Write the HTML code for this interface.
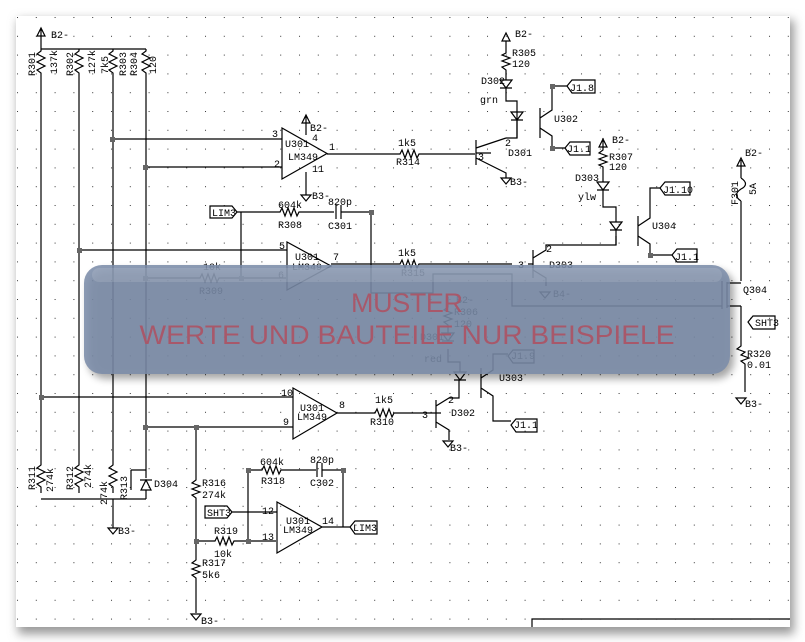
<!DOCTYPE html>
<html><head><meta charset="utf-8"><style>
html,body{margin:0;padding:0;background:#fff;width:805px;height:642px;overflow:hidden}
svg{display:block}
text{font-family:"Liberation Mono",monospace;font-size:10px;fill:#000}
</style></head><body>
<svg width="805" height="642" viewBox="0 0 805 642" xmlns="http://www.w3.org/2000/svg">
<defs>
<pattern id="dots" x="16" y="16" width="18.8" height="18.8" patternUnits="userSpaceOnUse">
<rect x="1" y="1" width="1" height="1" fill="#333"/></pattern>
<filter id="sh" x="-5%" y="-5%" width="110%" height="110%"><feGaussianBlur stdDeviation="5"/></filter>
<filter id="sh2" x="-5%" y="-20%" width="110%" height="140%"><feGaussianBlur stdDeviation="4"/></filter>
</defs>
<rect x="18" y="20" width="776" height="614" fill="#999" filter="url(#sh)"/>
<rect x="16" y="16" width="774" height="611" fill="#fff"/>
<rect x="16" y="16" width="774" height="611" fill="url(#dots)"/>
<g stroke="#000" stroke-width="1.2" fill="none">
<!-- top bus -->
<path d="M41 28v21M37 36l4-8l4 8zM41 49h105"/>
<path d="M41 49v2l-4 3l8 4l-8 4l8 4l-8 4l4 3v392l-4 3l8 4l-8 4l8 4l-8 4l4 3v6"/>
<path d="M79 49v2l-4 3l8 4l-8 4l8 4l-8 4l4 3v392l-4 3l8 4l-8 4l8 4l-8 4l4 3v6"/>
<path d="M113 49v2l-4 3l8 4l-8 4l8 4l-8 4l4 3v392l-4 3l8 4l-8 4l8 4l-8 4l4 3v6"/>
<path d="M146 49v2l-4 3l8 4l-8 4l8 4l-8 4l4 3v405M146 490v9"/>
<!-- opamp1 -->
<path d="M282 128v51l45-25.5z"/>
<path d="M113 139h169M146 167h136M306 115v20M302 123l4-8l4 8zM306 172v23M301 195h10l-5 6z"/>
<path d="M327 154h73l2-4l3 8l3-8l3 8l3-8l3 8l2-4h56"/>
<!-- D301 transistor -->
<path d="M476 140v25M476 153h15M476 148l30-10M476 158l30 15v5M501 178h10l-5 6z"/>
<path d="M506 138h11v-37h-11v-13M500 80h12l-6 8zM500 88h12M506 80v-10l-4-3l8-3l-8-3l8-3l-8-3l4-2v-12M502 41l4-8l4 8z"/>
<path d="M511 112h12l-6 8zM511 120h12M517 120v18"/>
<path d="M540 108v30M540 118l12-8v-24h15M540 128l12 8v12h13"/>
<path d="M567 86l5-6h23v13h-23zM565 148l5-6h20v13h-20z"/>
<!-- LIM3 / opamp2 -->
<path d="M210 206h22l5 6l-5 6h-22z"/>
<path d="M237 212h43l2-4l3 8l3-8l3 8l3-8l3 8l2-4h35M336 205v14M341 205v14M341 212h30v81M241 212v66"/>
<path d="M287 242v48l44-24z"/>
<path d="M79 250h208M146 278h54l2-4l3 8l3-8l3 8l3-8l3 8l2-4h67"/>
<path d="M331 264h69l2-4l3 8l3-8l3 8l3-8l3 8l2-4h93M371 293h62v-19h79v32h210"/>
<path d="M533 250v28M533 264h-5M533 258l13-8v-5h70v-9M533 270l13 8v8M540 292h10l-5 6z"/>
<!-- D303 / U304 -->
<path d="M603 138v12l-4 3l8 3l-8 3l8 3l-8 3l4 2v15M599 147l4-8l4 8zM597 182h12l-6 8zM597 190h12M603 190v17h13v15M610 222h12l-6 8zM610 230h12M616 230v15"/>
<path d="M638 216v30M638 226l12-8v-30h10M638 236l12 8v11h22"/>
<path d="M660 188l5-6h25v13h-25zM672 255l5-6h20v13h-20z"/>
<!-- fuse & mosfet -->
<path d="M737 166l4-8l4 8zM741 160v18M741 178c6 4 6 8 0 11c-6 4-6 8 0 12M741 201v80M722 281v28M727 282v26M727 283h14M727 306h14M741 306v40l-4 3l8 3l-4 3l8 3-8 3l4 3v28M736 398h10l-5 6z"/>
<path d="M748 322l5-6h22v13h-22z"/>
<!-- opamp3 -->
<path d="M293 388v51l44-26z"/>
<path d="M41 397h252M146 427h147M196 427v53l-4 3l8 3l-8 3l8 3l-8 3l4 3v43M196 541v19l-4 3l8 3l-8 3l8 3l-8 3l4 3v35M191 614h10l-5 6z"/>
<path d="M337 413h38l2-4l3 8l3-8l3 8l3-8l3 8l2-4h47"/>
<path d="M436 400v28M436 406l13-8h10v-18M436 422l13 8v10M443 441h10l-5 6z"/>
<path d="M454 372h12l-6 8zM454 380h12M460 372v-10h-12v-13M442 333h12l-6 8zM442 341h12M448 333v-8l-4-3l8-3l-8-3l8-3l-8-3l4-3v-10"/>
<path d="M481 368v30M481 378l12-8v-16h15M481 388l12 8v25h18"/>
<path d="M508 356l5-6h21v13h-21zM511 425l5-6h21v13h-21z"/>
<!-- bottom left -->
<path d="M41 499h105M113 499v29M108 528h10l-5 6z"/>
<path d="M141 490h10l-5-10zM140 480h12M131 470v20M131 470h15"/>
<!-- opamp4 -->
<path d="M277 502v51l45-26z"/>
<path d="M205 506h22l5 6l-5 6h-22zM232 512h45M196 541h19l2-4l3 8l3-8l3 8l3-8l3 8l2-4h42M248 541v-71h14l2-4l3 8l3-8l3 8l3-8l3 8l2-4h35M317 463v14M322 463v14M322 470h21v57"/>
<path d="M322 527h28M350 527l5-6h22v13h-22z"/>
<path d="M532 627v-8h258"/>
</g>
<g fill="#666">
<rect x="110" y="137" width="5" height="5"/><rect x="143" y="165" width="5" height="5"/><rect x="369" y="210" width="5" height="5"/>
<rect x="77" y="248" width="5" height="5"/><rect x="143" y="276" width="5" height="5"/><rect x="239" y="276" width="5" height="5"/>
<rect x="39" y="395" width="5" height="5"/><rect x="143" y="425" width="5" height="5"/><rect x="194" y="425" width="5" height="5"/>
<rect x="194" y="539" width="5" height="5"/><rect x="246" y="539" width="5" height="5"/><rect x="246" y="468" width="5" height="5"/><rect x="341" y="468" width="5" height="5"/>
<rect x="550" y="84" width="5" height="5"/><rect x="550" y="146" width="5" height="5"/><rect x="648" y="253" width="5" height="5"/>
</g>
<g>
<text x="51" y="38">B2-</text>
<text transform="translate(35,76) rotate(-90)">R301</text><text transform="translate(57,74) rotate(-90)">137k</text>
<text transform="translate(73,76) rotate(-90)">R302</text><text transform="translate(95,74) rotate(-90)">127k</text>
<text transform="translate(108,74) rotate(-90)">7k5</text><text transform="translate(126,76) rotate(-90)">R303</text>
<text transform="translate(137,76) rotate(-90)">R304</text><text transform="translate(156,74) rotate(-90)">120</text>
<text x="272" y="137">3</text><text x="274" y="167">2</text><text x="285" y="147">U301</text><text x="288" y="160">LM349</text>
<text x="310" y="131">B2-</text><text x="312" y="141">4</text><text x="312" y="172">11</text><text x="312" y="199">B3-</text><text x="329" y="150">1</text>
<text x="212" y="216">LIM3</text>
<text x="278" y="208">604k</text><text x="278" y="228">R308</text><text x="328" y="205">820p</text><text x="328" y="229">C301</text>
<text x="279" y="249">5</text><text x="278" y="278">6</text><text x="295" y="260">U301</text><text x="292" y="270">LM349</text><text x="333" y="260">7</text>
<text x="203" y="270">10k</text><text x="199" y="294">R309</text>
<text x="398" y="146">1k5</text><text x="396" y="165">R314</text>
<text x="515" y="37">B2-</text><text x="512" y="56">R305</text><text x="512" y="67">120</text><text x="481" y="84">D302</text><text x="480" y="103">grn</text>
<text x="478" y="160">3</text><text x="505" y="146">2</text><text x="508" y="156">D301</text><text x="510" y="185">B3-</text>
<text x="554" y="122">U302</text><text x="570" y="91">J1.8</text><text x="567" y="152">J1.1</text>
<text x="612" y="143">B2-</text><text x="609" y="160">R307</text><text x="609" y="170">120</text><text x="575" y="181">D303</text><text x="578" y="200">ylw</text>
<text x="652" y="229">U304</text><text x="663" y="193">J1.10</text><text x="675" y="260">J1.1</text>
<text x="745" y="156">B2-</text><text transform="translate(738,205) rotate(-90)">F301</text><text transform="translate(756,195) rotate(-90)">5A</text>
<text x="398" y="256">1k5</text><text x="401" y="276">R315</text><text x="518" y="268">3</text><text x="546" y="252">2</text><text x="549" y="268">D303</text><text x="553" y="297">B4-</text>
<text x="743" y="293">Q304</text><text x="755" y="326">SHT3</text><text x="747" y="357">R320</text><text x="747" y="368">0.01</text><text x="745" y="407">B3-</text>
<text x="456" y="303">B2-</text><text x="454" y="315">R306</text><text x="454" y="327">120</text><text x="420" y="340">D301</text><text x="424" y="362">red</text>
<text x="511" y="359">J1.9</text><text x="499" y="381">U303</text><text x="514" y="428">J1.1</text>
<text x="281" y="396">10</text><text x="283" y="425">9</text><text x="300" y="411">U301</text><text x="297" y="420">LM349</text><text x="339" y="408">8</text>
<text x="375" y="403">1k5</text><text x="370" y="425">R310</text><text x="422" y="418">3</text><text x="448" y="403">2</text><text x="451" y="416">D302</text><text x="450" y="451">B3-</text>
<text transform="translate(35,490) rotate(-90)">R311</text><text transform="translate(53,492) rotate(-90)">274k</text>
<text transform="translate(73,490) rotate(-90)">R312</text><text transform="translate(91,488) rotate(-90)">274k</text>
<text transform="translate(107,505) rotate(-90)">274k</text><text transform="translate(127,500) rotate(-90)">R313</text>
<text x="154" y="487">D304</text><text x="118" y="534">B3-</text>
<text x="202" y="486">R316</text><text x="202" y="498">274k</text><text x="202" y="566">R317</text><text x="202" y="578">5k6</text><text x="201" y="624">B3-</text>
<text x="207" y="516">SHT3</text><text x="262" y="514">12</text><text x="262" y="540">13</text><text x="286" y="524">U301</text><text x="283" y="533">LM349</text><text x="322" y="524">14</text>
<text x="353" y="531">LIM3</text><text x="260" y="465">604k</text><text x="261" y="484">R318</text><text x="310" y="463">820p</text><text x="310" y="486">C302</text>
<text x="214" y="534">R319</text><text x="214" y="557">10k</text>
</g>
<!-- overlay -->
<rect x="88" y="270" width="646" height="109" rx="18" fill="#000" opacity="0.35" filter="url(#sh2)"/>
<rect x="84" y="265" width="646" height="109" rx="18" fill="#7b8ca9" opacity="0.87"/>
<rect x="92" y="268" width="630" height="14" rx="7" fill="#fff" opacity="0.12"/>
<text x="407" y="312" text-anchor="middle" textLength="112" style="font-family:'Liberation Sans',sans-serif;font-size:27px;fill:#a8586a">MUSTER</text>
<text x="407" y="344" text-anchor="middle" textLength="535" lengthAdjust="spacingAndGlyphs" style="font-family:'Liberation Sans',sans-serif;font-size:27px;fill:#a8586a">WERTE UND BAUTEILE NUR BEISPIELE</text>
</svg>
</body></html>
